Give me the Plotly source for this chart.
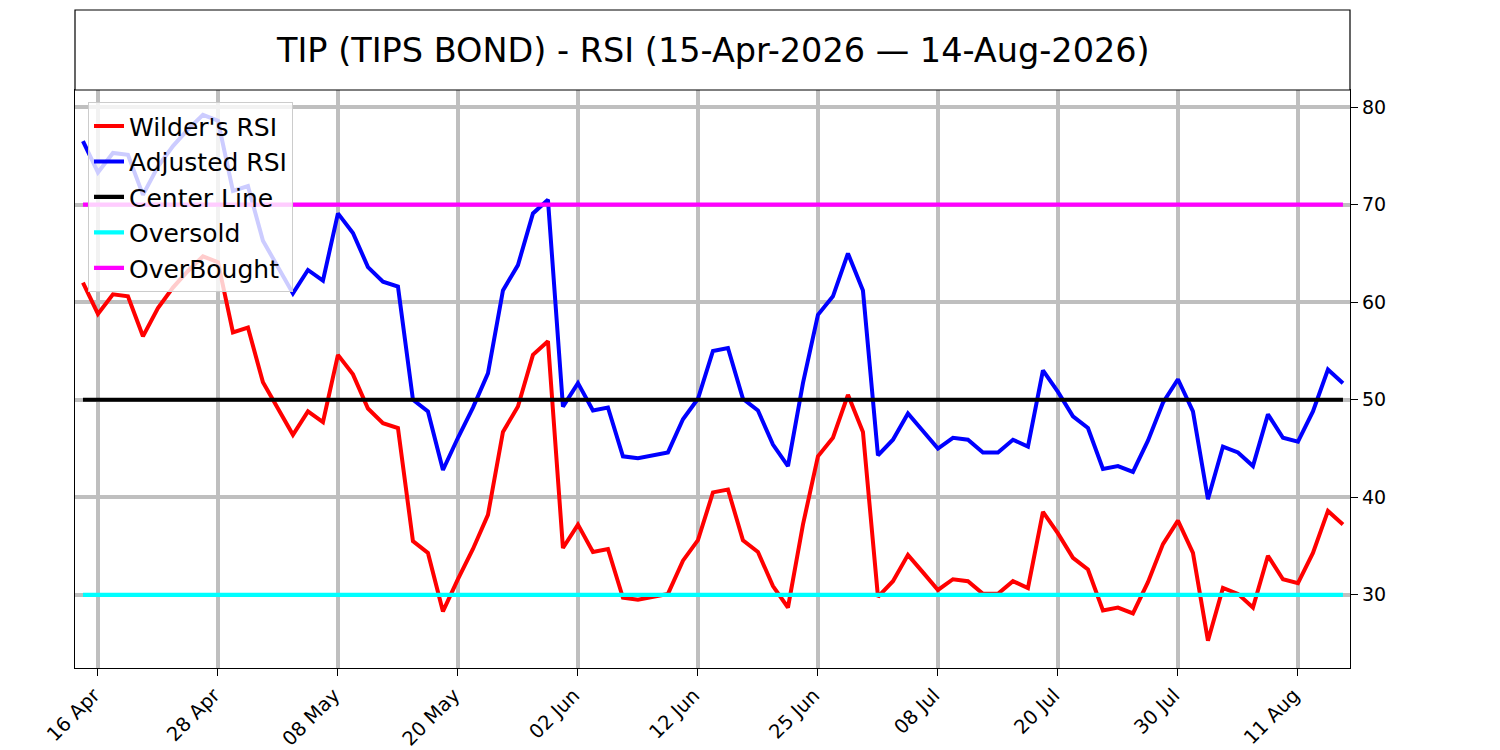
import pandas as pd
import plotly.graph_objects as go

title_text = "TIP (TIPS BOND) - RSI (15-Apr-2026 \u2014 14-Aug-2026)"

holidays = ["2026-05-25", "2026-06-19", "2026-07-03"]
dates = [d.strftime("%Y-%m-%d") for d in pd.bdate_range("2026-04-15", "2026-08-14")
         if d.strftime("%Y-%m-%d") not in holidays]

wilder_rsi = [62.0, 58.8, 60.8, 60.6, 56.5, 59.4, 61.5, 63.2, 64.7, 64.1,
              56.9, 57.4, 51.8, 49.2, 46.4, 48.8, 47.7, 54.6, 52.6, 49.1,
              47.6, 47.1, 35.5, 34.3, 28.3, 31.6, 34.7, 38.2, 46.7, 49.3,
              54.6, 56.0, 34.8, 37.2, 34.4, 34.7, 29.7, 29.5, 29.8, 30.1,
              33.5, 35.6, 40.5, 40.8, 35.6, 34.4, 30.9, 28.7, 37.2, 44.2,
              46.1, 50.5, 46.7, 29.8, 31.4, 34.1, 32.3, 30.5, 31.6, 31.4,
              30.1, 30.1, 31.4, 30.7, 38.5, 36.3, 33.8, 32.6, 28.4, 28.7,
              28.1, 31.3, 35.2, 37.6, 34.3, 25.3, 30.7, 30.1, 28.7, 34.0,
              31.6, 31.2, 34.3, 38.6, 37.2]

adjusted_rsi = [76.5, 73.3, 75.3, 75.1, 71.0, 73.9, 76.0, 77.7, 79.2, 78.6,
                71.4, 71.9, 66.3, 63.7, 60.9, 63.3, 62.2, 69.1, 67.1, 63.6,
                62.1, 61.6, 50.0, 48.8, 42.8, 46.1, 49.2, 52.7, 61.2, 63.8,
                69.1, 70.5, 49.3, 51.7, 48.9, 49.2, 44.2, 44.0, 44.3, 44.6,
                48.0, 50.1, 55.0, 55.3, 50.1, 48.9, 45.4, 43.2, 51.7, 58.7,
                60.6, 65.0, 61.2, 44.3, 45.9, 48.6, 46.8, 45.0, 46.1, 45.9,
                44.6, 44.6, 45.9, 45.2, 53.0, 50.8, 48.3, 47.1, 42.9, 43.2,
                42.6, 45.8, 49.7, 52.1, 48.8, 39.8, 45.2, 44.6, 43.2, 48.5,
                46.1, 45.7, 48.8, 53.1, 51.7]

center_level = 50
oversold_level = 30
overbought_level = 70

tick_dates = dates[1::8]
tick_labels = ["16 Apr", "28 Apr", "08 May", "20 May", "02 Jun", "12 Jun",
               "25 Jun", "08 Jul", "20 Jul", "30 Jul", "11 Aug"]

y_ticks = [30, 40, 50, 60, 70, 80]

FONT = "DejaVu Sans"

fig = go.Figure()
fig.add_trace(go.Scatter(x=dates, y=wilder_rsi, mode="lines", name="Wilder's RSI",
                         line=dict(color="#ff0000", width=4)))
fig.add_trace(go.Scatter(x=dates, y=adjusted_rsi, mode="lines", name="Adjusted RSI",
                         line=dict(color="#0000ff", width=4)))
fig.add_trace(go.Scatter(x=dates, y=[center_level] * len(dates), mode="lines", name="Center Line",
                         line=dict(color="#000000", width=4.2)))
fig.add_trace(go.Scatter(x=dates, y=[oversold_level] * len(dates), mode="lines", name="Oversold",
                         line=dict(color="#00ffff", width=4.2)))
fig.add_trace(go.Scatter(x=dates, y=[overbought_level] * len(dates), mode="lines", name="OverBought",
                         line=dict(color="#ff00ff", width=4.2)))

plot_h = 578
box_top = 1 + 80 / plot_h

fig.update_layout(
    width=1500, height=750,
    margin=dict(l=67, r=158, t=82, b=90),
    paper_bgcolor="white", plot_bgcolor="white",
    font=dict(family=FONT, color="black"),
    showlegend=True,
    legend=dict(x=0.0102, y=0.979, xanchor="left", yanchor="top",
                bgcolor="rgba(255,255,255,0.8)", bordercolor="#cccccc", borderwidth=1,
                font=dict(family=FONT, size=25, color="black"), itemwidth=30,
                tracegroupgap=0),
    xaxis=dict(type="category", range=[-0.53, 84.47],
               tickmode="array", tickvals=tick_dates, ticktext=tick_labels,
               tickangle=-45, tickfont=dict(family=FONT, size=19.5, color="black"),
               ticklabelshift=-4, automargin=False,
               showgrid=True, gridcolor="#bfbfbf", gridwidth=3.5,
               showline=True, linecolor="black", linewidth=1.2, mirror=True,
               ticks="outside", ticklen=7, tickcolor="black", tickwidth=1.2,
               zeroline=False),
    yaxis=dict(side="right", range=[22.5, 81.75], automargin=False,
               tickmode="array", tickvals=y_ticks,
               tickfont=dict(family=FONT, size=19, color="black"),
               showgrid=True, gridcolor="#bfbfbf", gridwidth=3.5,
               showline=True, linecolor="black", linewidth=1.2, mirror=True,
               ticks="outside", ticklen=7, tickcolor="black", tickwidth=1.2,
               zeroline=False),
    shapes=[dict(type="rect", xref="paper", yref="paper", x0=0, x1=1, y0=1, y1=box_top,
                 line=dict(color="black", width=1.2), fillcolor="white", layer="above")],
    annotations=[dict(text=title_text, xref="paper", yref="paper", x=0.5, y=(1 + box_top) / 2,
                      xanchor="center", yanchor="middle", showarrow=False,
                      font=dict(family=FONT, size=33.5, color="black"))],
)

fig.write_html("out.html")
